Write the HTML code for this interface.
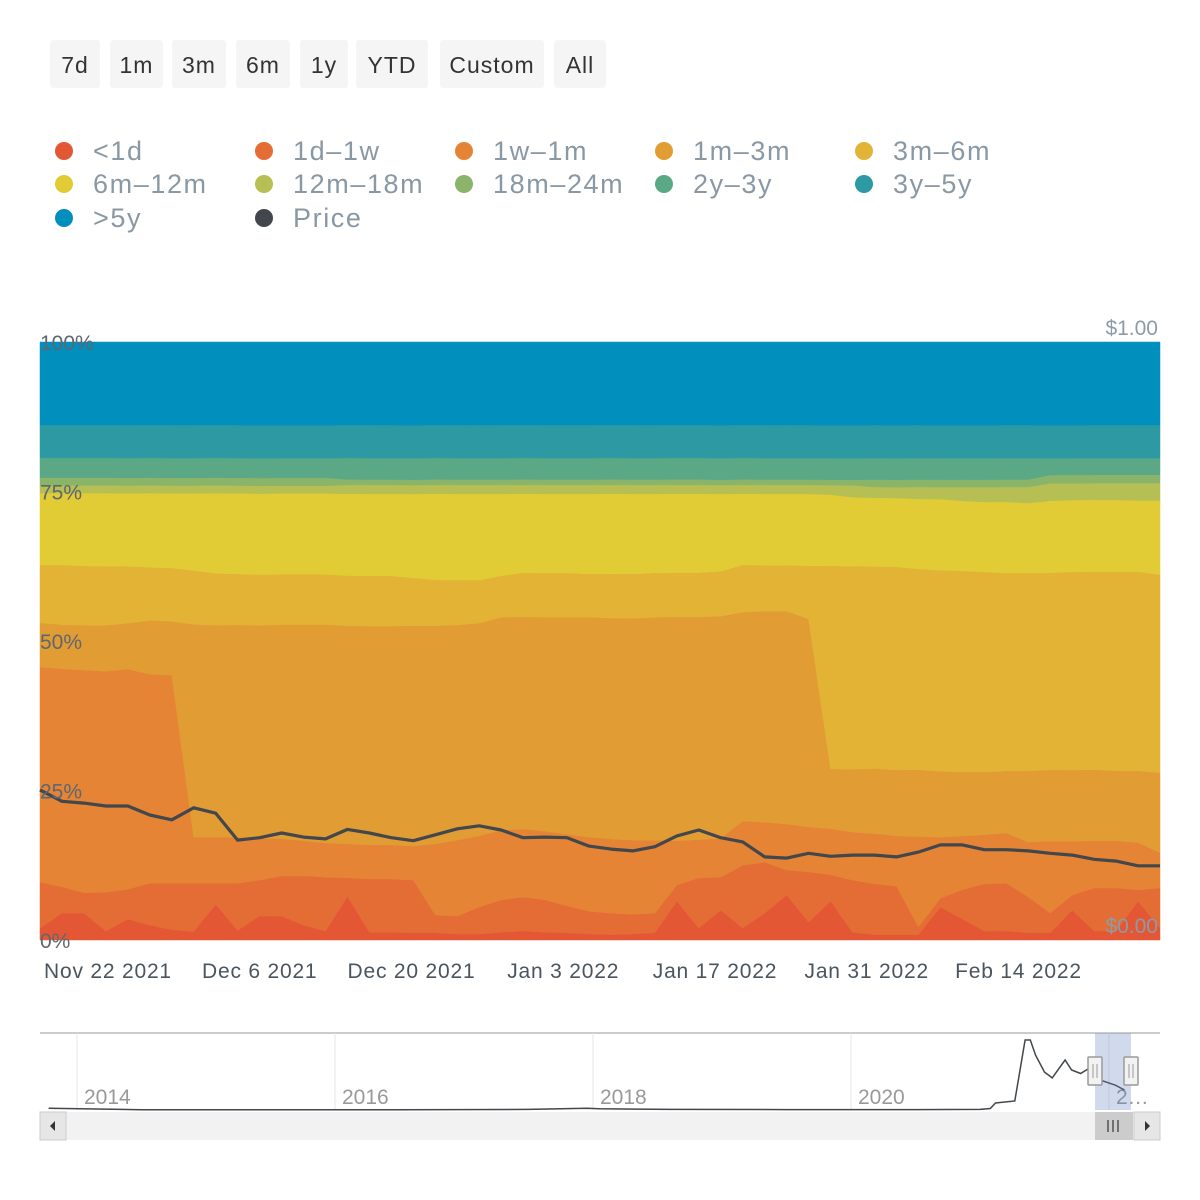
<!DOCTYPE html>
<html><head><meta charset="utf-8">
<style>
body{margin:0;background:#fff;width:1200px;height:1200px;overflow:hidden;font-family:"Liberation Sans",sans-serif;}
.btn{position:absolute;top:40px;height:48px;background:#f5f5f5;border-radius:3px;color:#333;font-size:23px;line-height:50px;text-align:center;letter-spacing:1px}
.leg{position:absolute;font-size:27px;color:#8a98a5;line-height:30px;letter-spacing:1.6px}
.leg span{display:inline-block;width:18px;height:18px;border-radius:50%;vertical-align:middle;margin-right:20px;position:relative;top:-2px}
</style></head>
<body>
<div>
<div class="btn" style="left:50px;width:50px">7d</div>
<div class="btn" style="left:110px;width:53px">1m</div>
<div class="btn" style="left:172px;width:54px">3m</div>
<div class="btn" style="left:236px;width:54px">6m</div>
<div class="btn" style="left:300px;width:48px">1y</div>
<div class="btn" style="left:356px;width:72px">YTD</div>
<div class="btn" style="left:440px;width:104px">Custom</div>
<div class="btn" style="left:554px;width:52px">All</div>
</div>
<div id="legend"></div>
<svg id="chart" width="1200" height="1200" style="position:absolute;left:0;top:0" xmlns="http://www.w3.org/2000/svg"></svg>
<script>
const seriesNames=["<1d","1d–1w","1w–1m","1m–3m","3m–6m","6m–12m","12m–18m","18m–24m","2y–3y","3y–5y",">5y"];
const seriesColors=["#e35735","#e36d35","#e58434","#e29c34","#e3b336","#e2cc35","#b5bf53","#8ab46a","#5aa886","#2d9aa3","#0190be"];
const startDate="2021-11-15T17:30:00Z";
const stepDays=2.026;
const lt1d=[2.0,4.5,4.5,1.5,3.5,2.5,1.7,1.4,6.0,1.6,4.0,4.0,2.5,1.5,7.3,1.3,1.3,1.2,1.2,1.0,1.0,1.3,1.5,1.3,1.2,1.0,0.9,1.0,1.2,6.5,2.0,5.0,2.0,4.5,7.5,3.0,6.5,1.3,0.9,0.9,0.9,5.5,3.5,1.5,1.5,1.2,1.2,5.0,1.5,1.5,6.5,2.0];
const d1w1=[7.7,4.4,3.4,6.5,5.0,7.0,7.8,8.1,3.5,7.9,6.0,6.7,8.2,9.0,3.1,8.9,8.9,8.8,3.0,3.0,4.5,5.4,5.7,5.4,4.5,3.8,3.6,3.3,3.3,2.7,8.4,5.5,10.5,8.5,4.2,8.4,4.4,8.7,8.5,8.1,1.3,1.5,4.9,7.9,8.0,6.0,3.3,2.5,7.2,7.2,1.9,6.7];
const w1m1=[36.0,36.5,37.3,37.0,36.8,35.0,34.8,7.7,7.7,7.7,7.0,6.2,5.9,5.7,5.7,5.7,5.7,5.7,11.9,12.7,11.9,11.7,11.4,11.5,12.0,12.4,12.4,12.4,12.2,7.4,6.4,6.5,7.4,6.7,7.7,7.5,7.7,8.0,8.4,8.4,15.1,10.2,9.0,8.2,8.4,9.2,12.0,9.0,7.9,7.9,7.9,5.9];
const m1m3=[7.4,7.4,7.5,7.7,7.7,9.0,9.0,35.6,35.5,35.5,35.5,35.8,36.1,36.5,36.5,36.6,36.6,36.8,36.5,36.0,35.6,35.6,35.5,35.8,36.3,36.8,37.0,37.1,37.3,37.5,37.3,37.1,35.0,35.3,35.6,34.8,10.0,10.5,10.9,11.0,11.2,11.0,10.7,10.5,10.4,11.9,11.9,11.9,11.9,11.7,12.0,13.4];
const m3m6=[9.7,10.0,9.9,9.9,9.5,8.9,8.9,9.0,8.7,8.5,8.5,8.4,8.4,8.4,8.4,8.4,8.4,8.0,7.7,7.5,7.2,6.9,7.4,7.4,7.4,7.2,7.4,7.4,7.4,7.4,7.4,7.5,7.9,7.7,7.7,8.9,33.9,33.9,33.8,33.9,33.6,33.6,33.6,33.4,33.1,33.1,32.9,33.1,33.1,33.3,33.3,33.1];
const m6m12=[12.0,12.0,12.2,12.2,12.2,12.4,12.5,12.9,13.4,13.5,13.5,13.5,13.5,13.5,13.7,13.7,13.7,14.0,14.4,14.4,14.4,13.7,13.2,13.2,13.2,13.4,13.4,13.4,13.2,13.2,13.2,12.9,11.9,11.9,11.9,12.0,11.9,11.5,11.5,11.5,11.7,11.9,11.7,11.7,11.9,11.7,12.0,12.0,12.0,12.0,11.9,12.4];
const m12m18=[1.3,1.3,1.3,1.3,1.3,1.3,1.3,1.3,1.3,1.3,1.3,1.3,1.3,1.3,1.5,1.5,1.5,1.5,1.5,1.5,1.5,1.5,1.5,1.5,1.5,1.5,1.5,1.5,1.5,1.5,1.5,1.5,1.5,1.5,1.5,1.5,1.6,2.0,1.8,1.8,2.0,2.0,2.3,2.5,2.5,2.7,2.9,2.8,2.8,2.8,2.9,2.9];
const m18m24=[1.3,1.3,1.3,1.3,1.3,1.3,1.3,1.3,1.3,1.3,1.3,1.3,1.3,1.3,0.9,0.9,0.9,0.9,0.9,0.9,0.9,0.9,0.9,0.9,0.9,0.9,0.9,0.9,0.9,0.9,0.9,0.9,0.9,0.9,0.9,0.9,0.9,0.9,1.25,1.25,1.25,1.25,1.25,1.25,1.25,1.25,1.4,1.4,1.4,1.4,1.4,1.4];
const y2y3=[3.3,3.3,3.3,3.3,3.3,3.3,3.3,3.3,3.3,3.3,3.3,3.3,3.3,3.3,3.6,3.6,3.6,3.6,3.6,3.6,3.6,3.6,3.6,3.6,3.6,3.6,3.6,3.6,3.6,3.6,3.6,3.6,3.6,3.6,3.6,3.6,3.6,3.6,3.6,3.6,3.6,3.6,3.6,3.6,3.6,3.6,2.8,2.8,2.8,2.8,2.8,2.8];
const y3y5=new Array(52).fill(5.5);
const gt5y=new Array(52).fill(13.9);
const price=[.251,.232,.229,.224,.224,.209,.201,.221,.212,.167,.171,.179,.172,.169,.185,.179,.171,.166,.176,.186,.191,.184,.171,.172,.171,.157,.152,.149,.156,.174,.184,.171,.164,.139,.137,.145,.140,.142,.142,.139,.147,.159,.159,.151,.151,.149,.145,.142,.135,.132,.124,.124];
const xTickDates=["2021-11-22","2021-12-06","2021-12-20","2022-01-03","2022-01-17","2022-01-31","2022-02-14"];
const xTickLabels=["Nov 22 2021","Dec 6 2021","Dec 20 2021","Jan 3 2022","Jan 17 2022","Jan 31 2022","Feb 14 2022"];
const yTickValues=[0,25,50,75,100];
const priceTickValues=[0,1];
const navYears=[2013.78,2014.5,2015.5,2016.5,2017.5,2017.95,2018.05,2018.6,2019.5,2020.5,2021.0,2021.08,2021.12,2021.27,2021.35,2021.39,2021.43,2021.5,2021.56,2021.66,2021.71,2021.78,2021.85,2021.93,2022.05,2022.12];
const navPrice=[.012,.002,.002,.002,.004,.012,.008,.004,.003,.003,.004,.01,.048,.062,.48,.48,.377,.26,.22,.343,.274,.25,.288,.206,.17,.137];
const navTickYears=[2014,2016,2018,2020,2022];

const series=[lt1d,d1w1,w1m1,m1m3,m3m6,m6m12,m12m18,m18m24,y2y3,y3y5,gt5y];
const NS="http://www.w3.org/2000/svg";
const svg=document.getElementById('chart');
const L=40,R=1160,T=342,B=940;
const day=86400000, t0=Date.parse(startDate), n=price.length;
const t1=t0+(n-1)*stepDays*day;
const xS=t=>L+(t-t0)/(t1-t0)*(R-L);
const xI=i=>xS(t0+i*stepDays*day);
const yP=p=>B-p/100*(B-T);
const yPrice=v=>B-v*(B-T);
function mk(tag,attrs,parent){const e=document.createElementNS(NS,tag);for(const k in attrs)e.setAttribute(k,attrs[k]);(parent||svg).appendChild(e);return e;}

const totals=[];for(let i=0;i<n;i++){let s=0;series.forEach(a=>s+=a[i]);totals.push(s);}
const cum=new Array(n).fill(0);
series.forEach((arr,k)=>{
  const lower=cum.slice();
  for(let i=0;i<n;i++)cum[i]+=arr[i]/totals[i]*100;
  let d="";
  for(let i=0;i<n;i++)d+=(i?"L":"M")+xI(i).toFixed(1)+" "+yP(cum[i]).toFixed(1);
  for(let i=n-1;i>=0;i--)d+="L"+xI(i).toFixed(1)+" "+yP(lower[i]).toFixed(1);
  d+="Z";
  const p=mk('path',{d:d,fill:seriesColors[k],stroke:seriesColors[k],'stroke-width':0.5});
  
  
});
let pd="";for(let i=0;i<n;i++)pd+=(i?"L":"M")+xI(i).toFixed(1)+" "+yPrice(price[i]).toFixed(1);
const pl=mk('path',{d:pd,fill:'none',stroke:'#41474c','stroke-width':3.2,'stroke-linejoin':'round'});



yTickValues.forEach(v=>{
  const t=mk('text',{x:L,y:yP(v)+8,'font-size':21,fill:'#5f6670','font-family':'Liberation Sans, sans-serif'});
  t.textContent=v+'%';
  
  
});
priceTickValues.forEach(v=>{
  const t=mk('text',{x:R-2,y:yPrice(v)-7,'font-size':21,fill:'#8d9aa7','text-anchor':'end','font-family':'Liberation Sans, sans-serif'});
  t.textContent='$'+v.toFixed(2);
  
  
});
xTickDates.forEach((d,i)=>{
  const t=mk('text',{x:xS(Date.parse(d+'T00:00:00Z')),y:978,'font-size':21,fill:'#4a5560','text-anchor':'middle','font-family':'Liberation Sans, sans-serif','letter-spacing':'0.8'});
  t.textContent=xTickLabels[i];
  
  
});

const NT=1033,NB=1110;
const nx=y=>77+(y-2014)*129;
const ny=v=>NB-v/0.48*70;
const nav=mk('g',{});


mk('line',{x1:L,y1:NT,x2:R,y2:NT,stroke:'#cccccc','stroke-width':2},nav);
navTickYears.forEach(yr=>{
  const x=nx(yr);
  if(x<R){mk('line',{x1:x,y1:NT,x2:x,y2:NB,stroke:'#e6e6e6','stroke-width':1},nav);}
  const t=mk('text',{x:x+7,y:1104,'font-size':21,fill:'#999','font-family':'Liberation Sans, sans-serif'},nav);
  t.textContent=yr===2022?'2…':String(yr);
  
  
});
let nd="";navYears.forEach((y,i)=>{nd+=(i?"L":"M")+nx(y).toFixed(1)+" "+ny(navPrice[i]).toFixed(1);});
mk('path',{d:nd,fill:'none',stroke:'#41474c','stroke-width':1.5},nav);
mk('rect',{x:1095,y:NT,width:36,height:NB-NT,fill:'rgba(102,133,194,0.3)'},nav);
[1095,1131].forEach(hx=>{
  const h=mk('g',{},nav);
  
  
  mk('rect',{x:hx-7,y:1057,width:14,height:28,fill:'#f2f2f2',stroke:'#999','stroke-width':1.5,rx:1},h);
  mk('line',{x1:hx-2,y1:1064,x2:hx-2,y2:1078,stroke:'#999'},h);
  mk('line',{x1:hx+2,y1:1064,x2:hx+2,y2:1078,stroke:'#999'},h);
});
const sb=mk('g',{});


mk('rect',{x:L,y:1112,width:R-L,height:28,fill:'#f2f2f2'},sb);
mk('rect',{x:L,y:1112,width:26,height:28,fill:'#e6e6e6',stroke:'#ccc'},sb);
mk('path',{d:'M55 1121 L50 1126 L55 1131 Z',fill:'#333'},sb);
mk('rect',{x:1134,y:1112,width:26,height:28,fill:'#e6e6e6',stroke:'#ccc'},sb);
mk('path',{d:'M1145 1121 L1150 1126 L1145 1131 Z',fill:'#333'},sb);
mk('rect',{x:1095,y:1112,width:38,height:28,fill:'#cccccc'},sb);
[1108,1113,1118].forEach(x=>mk('line',{x1:x,y1:1120,x2:x,y2:1132,stroke:'#333','stroke-width':1.2},sb));

const legCols=[55,255,455,655,855],legRows=[152,185,219];
const legNames=seriesNames.concat(['Price']);
const legColors=seriesColors.concat(['#41474c']);
const lg=document.getElementById('legend');
legNames.forEach((nm,i)=>{
  const d=document.createElement('div');
  d.className='leg';
  d.style.left=legCols[i%5]+'px';
  d.style.top=(legRows[Math.floor(i/5)]-16)+'px';
  d.innerHTML='<span style="background:'+legColors[i]+'"></span>'+nm.replace('<','&lt;').replace('>','&gt;');
  
  
  lg.appendChild(d);
});
</script>
</body></html>
